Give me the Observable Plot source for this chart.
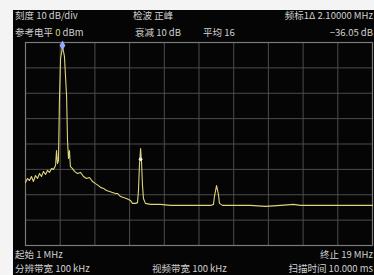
<!DOCTYPE html>
<html>
<head>
<meta charset="utf-8">
<script src="https://cdn.jsdelivr.net/npm/d3@7/dist/d3.min.js"></script>
<script src="https://cdn.jsdelivr.net/npm/@observablehq/plot@0.6/dist/plot.umd.min.js"></script>
<style>
  html, body { margin: 0; padding: 0; background: #fff; }
  #wrap { position: relative; width: 374px; height: 275px; overflow: hidden; background: #f4f4f4; }
  #screen { position: absolute; left: 13px; top: 10px; width: 361px; height: 265px; background: #050505; }
  #chart { position: absolute; left: 0; top: 0; width: 374px; height: 275px; }
  .t { position: absolute; font-family: "Noto Sans CJK SC", "DejaVu Sans", sans-serif; font-size: 9.5px; line-height: 11px; color: #d0d0d0; white-space: nowrap; }
  .y { color: #d8d070; }
</style>
</head>
<body>
<div id="wrap">
  <div id="screen"></div>
  <div id="chart"></div>
  <div class="t" style="left:15px;top:10px">刻度 10 dB/div</div>
  <div class="t" style="left:133px;top:10px">检波 正峰</div>
  <div class="t" style="right:1px;top:10px">频标1Δ 2.10000 MHz</div>
  <div class="t" style="left:15px;top:27px">参考电平 <span class="y">0</span> dBm</div>
  <div class="t" style="left:135px;top:27px">衰减 10 dB</div>
  <div class="t" style="left:203px;top:27px">平均 16</div>
  <div class="t" style="right:1px;top:27px">−36.05 dB</div>
  <div class="t" style="left:15px;top:249px">起始 1 MHz</div>
  <div class="t" style="right:1px;top:249px">终止 19 MHz</div>
  <div class="t" style="left:15px;top:263px">分辨带宽 100 kHz</div>
  <div class="t" style="left:152px;top:263px">视频带宽 100 kHz</div>
  <div class="t" style="right:1px;top:263px">扫描时间 10.000 ms</div>
</div>
<script>
// Frequency (MHz) and level (dBm) of the trace
const freq = [1.00,1.10,1.21,1.31,1.41,1.52,1.62,1.73,1.83,1.93,2.04,2.14,2.24,2.35,2.45,2.56,2.61,2.66,2.71,2.76,
  2.82,2.92,3.02,3.13,3.18,3.23,3.28,3.33,3.44,3.54,3.70,3.85,4.01,4.16,4.32,4.48,4.63,4.79,4.89,5.05,
  5.20,5.36,5.51,5.67,5.77,5.93,6.08,6.24,6.34,6.45,6.55,6.71,6.81,6.86,6.91,6.97,7.02,7.07,7.12,7.22,
  7.48,8.00,8.52,9.04,9.56,10.08,10.60,10.75,10.80,10.91,11.01,11.06,11.22,11.89,12.67,13.45,14.23,14.90,15.26,16.30,
  17.34,18.38,19.00];
const level = [-55.2,-53.6,-54.4,-52.8,-54.8,-52.4,-53.6,-51.6,-52.8,-50.8,-52.0,-50.4,-51.2,-49.7,-50.0,-48.5,-42.6,-47.7,-46.5,-22.9,
  -6.3,-1.6,-5.5,-20.9,-38.6,-45.7,-42.6,-48.9,-49.7,-50.8,-51.6,-51.2,-52.8,-53.6,-53.2,-54.8,-55.6,-56.4,-57.1,-57.5,
  -58.3,-58.7,-59.1,-59.5,-59.5,-60.7,-61.1,-61.5,-61.9,-62.3,-63.4,-63.4,-63.1,-58.3,-48.5,-41.8,-47.3,-56.4,-61.5,-63.4,
  -63.8,-63.8,-64.2,-64.2,-64.2,-64.2,-64.2,-63.8,-60.7,-56.4,-59.9,-63.4,-64.2,-64.2,-64.2,-64.6,-64.2,-63.8,-64.2,-64.2,
  -64.2,-64.2,-64.2];

// Markers
const markerFreq = [2.92, 6.97];
const markerLevel = [-1.2, -46.0];

// Graticule: 10 horizontal divisions, 8 vertical divisions
const gridFreq = [1, 2.8, 4.6, 6.4, 8.2, 10, 11.8, 13.6, 15.4, 17.2, 19];
const gridLevel = [0, -10, -20, -30, -40, -50, -60, -70, -80];

const trace = freq.map((f, i) => ({f, l: level[i]}));
const markers = markerFreq.map((f, i) => ({f, l: markerLevel[i], i}));

const chart = Plot.plot({
  width: 374,
  height: 275,
  marginLeft: 25,
  marginRight: 2,
  marginTop: 42,
  marginBottom: 30,
  style: {background: "transparent", overflow: "visible"},
  x: {domain: [1, 19], axis: null},
  y: {domain: [-80, 0], axis: null},
  marks: [
    Plot.ruleX(gridFreq, {stroke: "#4c4c4c", strokeWidth: 1}),
    Plot.ruleY(gridLevel, {stroke: "#4c4c4c", strokeWidth: 1}),
    Plot.frame({stroke: "#7a7a7a", strokeWidth: 1.2}),
    Plot.line(trace, {x: "f", y: "l", stroke: "#dcd47a", strokeWidth: 1.1, curve: "linear"}),
    Plot.dot(markers.filter(d => d.i === 0), {x: "f", y: "l", symbol: "diamond", r: 3, fill: "#9aa8ff", stroke: "none"}),
    Plot.dot(markers.filter(d => d.i === 1), {x: "f", y: "l", r: 1.8, fill: "#f0f0f0", stroke: "none"})
  ]
});
document.getElementById("chart").appendChild(chart);
</script>
</body>
</html>
